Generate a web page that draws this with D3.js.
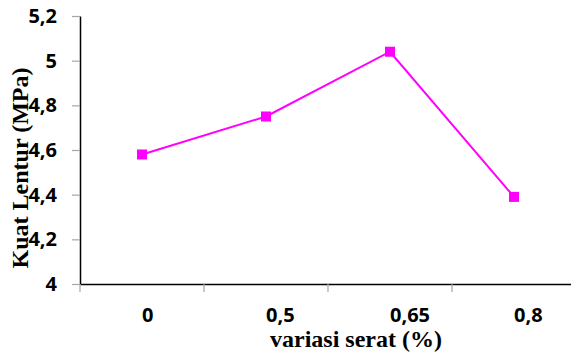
<!DOCTYPE html>
<html>
<head>
<meta charset="utf-8">
<script src="https://cdn.jsdelivr.net/npm/d3@7"></script>
<style>
  html, body { margin: 0; padding: 0; background: #fff; }
  svg { display: block; }
  .tick-label { font-family: "Open Sans", sans-serif; font-weight: 700; font-size: 20px; fill: #000; }
  .axis-title { font-family: "Liberation Serif", "Times New Roman", serif; font-weight: 700; font-size: 24px; fill: #000; }
</style>
</head>
<body>
<script>
// Flexural strength for each fibre variation
const categories = ["0", "0,5", "0,65", "0,8"];
const strength = [4.58, 4.75, 5.04, 4.39];
const yTicks = [4, 4.2, 4.4, 4.6, 4.8, 5, 5.2];
const xTitle = "variasi serat (%)";
const yTitle = "Kuat Lentur (MPa)";

const width = 571, height = 356;
const plot = { left: 80, right: 576, top: 16, bottom: 284 };

// comma as decimal separator
const locale = d3.formatLocale({ decimal: ",", thousands: ".", grouping: [3], currency: ["", ""] });
const fmt = locale.format("~g");

const svg = d3.select("body").append("svg")
  .attr("width", width).attr("height", height);

const x = d3.scaleBand().domain(categories).range([plot.left, plot.right]);
const y = d3.scaleLinear().domain([4, 5.2]).range([plot.bottom, plot.top]);

// y axis
const yAxis = svg.append("g")
  .attr("transform", `translate(${plot.left},0)`)
  .call(d3.axisLeft(y).tickValues(yTicks).tickFormat(fmt).tickSize(8).tickSizeOuter(0).tickPadding(15));
yAxis.select(".domain").attr("stroke", "#000").attr("stroke-width", 1.5);
yAxis.selectAll(".tick line").attr("stroke", "#a6a6a6").attr("stroke-width", 1.2);
yAxis.selectAll(".tick text").attr("class", "tick-label").attr("font-family", null).attr("font-size", null);

// x axis: ticks between categories, labels at category centres
const xAxis = svg.append("g")
  .attr("transform", `translate(0,${plot.bottom})`)
  .call(d3.axisBottom(x).tickSize(0).tickSizeOuter(0).tickFormat(""));
xAxis.select(".domain").attr("stroke", "#000").attr("stroke-width", 1.5);

const edges = categories.map(c => x(c)).concat([x.range()[1]]);
svg.append("g").selectAll("line").data(edges).join("line")
  .attr("x1", d => d).attr("x2", d => d)
  .attr("y1", plot.bottom).attr("y2", plot.bottom + 8)
  .attr("stroke", "#a6a6a6").attr("stroke-width", 1.2);

svg.append("g").selectAll("text").data(categories).join("text")
  .attr("class", "tick-label")
  .attr("x", d => x(d) + x.bandwidth() / 2)
  .attr("y", 322)
  .attr("text-anchor", "start")
  .text(d => d);

// series line and square markers
const pts = categories.map((c, i) => ({ c, v: strength[i] }));
const cx = d => x(d.c) + x.bandwidth() / 2;

svg.append("path")
  .datum(pts)
  .attr("fill", "none")
  .attr("stroke", "#ff00ff")
  .attr("stroke-width", 2)
  .attr("d", d3.line().x(cx).y(d => y(d.v)));

const m = 10;
svg.append("g").selectAll("rect").data(pts).join("rect")
  .attr("x", d => cx(d) - m / 2)
  .attr("y", d => y(d.v) - m / 2)
  .attr("width", m).attr("height", m)
  .attr("fill", "#ff00ff");

// axis titles
svg.append("text")
  .attr("class", "axis-title")
  .attr("x", 356).attr("y", 347)
  .attr("text-anchor", "middle")
  .text(xTitle);

svg.append("text")
  .attr("class", "axis-title")
  .attr("transform", "translate(28,168) rotate(-90)")
  .attr("text-anchor", "middle")
  .text(yTitle);
</script>
</body>
</html>
